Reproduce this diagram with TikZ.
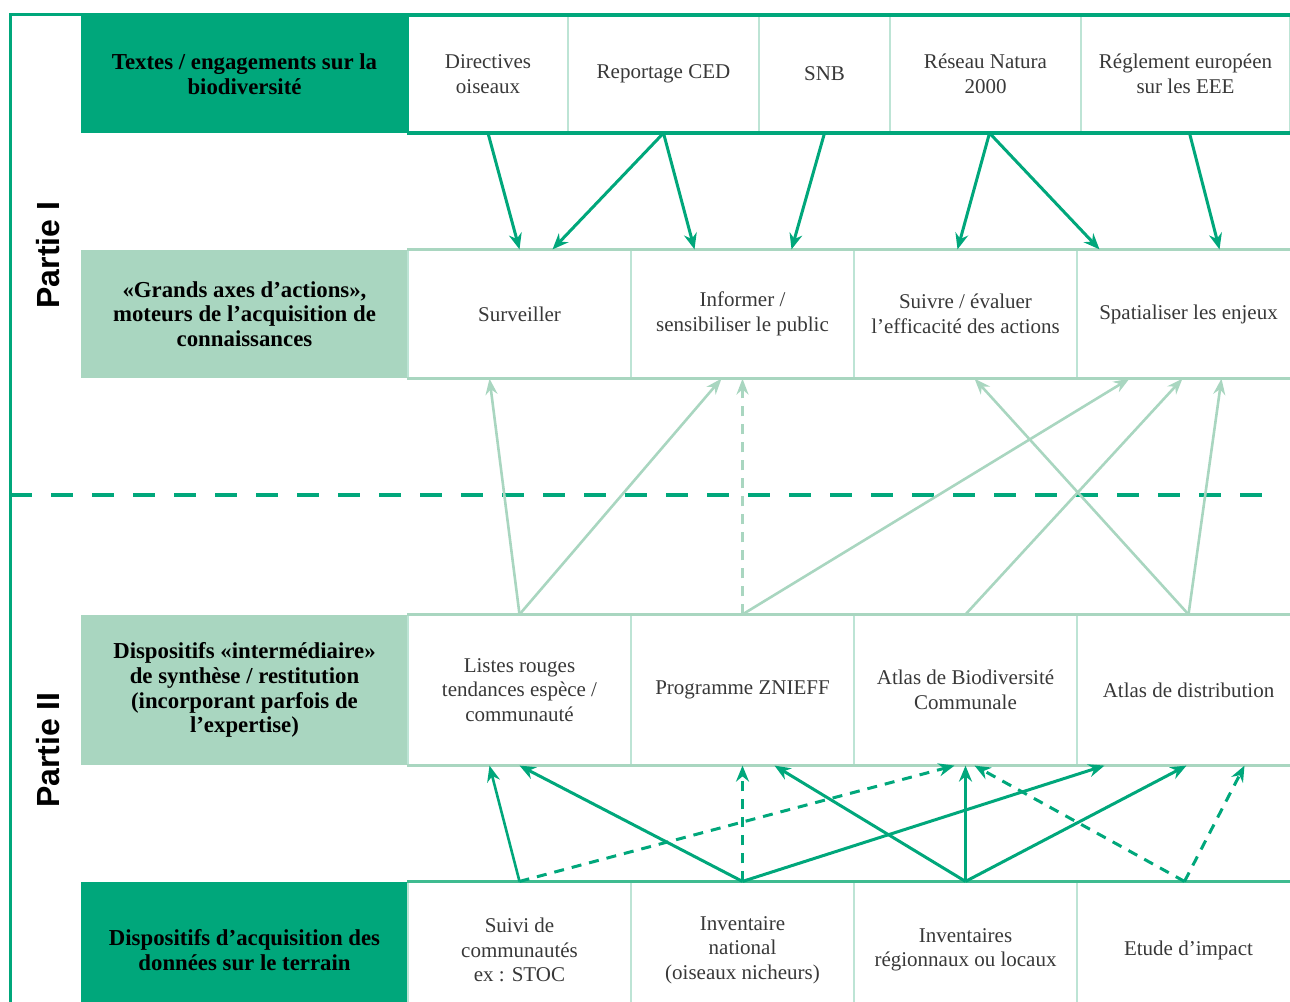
\documentclass[tikz,border=0pt]{standalone}
\usepackage{fontspec}
\setmainfont{Liberation Serif}
\newfontfamily\partfont{Liberation Sans}
\usetikzlibrary{positioning,calc,arrows.meta}

\definecolor{vertfonce}{HTML}{00A77B}
\definecolor{vertclair}{HTML}{A9D6C0}
\definecolor{vertfilet}{HTML}{BDE4D5}
\definecolor{vertmoyen}{HTML}{3FBB90}
\definecolor{gristexte}{HTML}{383838}

\begin{document}
\begin{tikzpicture}[x=0.5pt,y=-0.5pt]
\tikzstyle{every node}+=[inner sep=0pt]
\tikzstyle{tete}=[minimum width=163.5pt, align=center, text=black, font=\bfseries\fontsize{11.4}{12.4}\selectfont]
\tikzstyle{case}=[draw=vertfilet, line width=0.6pt, align=center, text=gristexte, font=\fontsize{10.5}{12.3}\selectfont]
\tikzstyle{fleche}=[vertfonce, line width=1.5pt, -{Stealth[length=8pt,width=6.5pt]}]
\tikzstyle{flecheclaire}=[vertclair, line width=1.3pt, -{Stealth[length=8pt,width=6pt]}]
\tikzstyle{pointille}=[dash pattern=on 5pt off 4pt]
\useasboundingbox (0,0) rectangle (1290,1001);
\clip (0,0) rectangle (1290,1001);
% cadre
\draw [vertfonce, line width=1.5pt] (10,1010) -- (10,14) -- (1300,14);
\draw [vertfonce, line width=2pt, dash pattern=on 11pt off 9.5pt] (10,495) -- (1272,495);
\node [rotate=90, font=\partfont\bfseries\fontsize{16}{16}\selectfont] (partie1) at (48,255) {Partie I};
\node [rotate=90, font=\partfont\bfseries\fontsize{16}{16}\selectfont] (partie2) at (48,750) {Partie II};
% ligne 1 : textes
\node [tete, fill=vertfonce, minimum height=58.5pt] (textes) at (244.5,74) {Textes / engagements sur la\\biodiversité};
\node [case, minimum width=80pt, minimum height=58.5pt] (dir) at (488,74) {Directives\\oiseaux};
\node [case, minimum width=95.5pt, minimum height=58.5pt] (ced) at (663.5,74) {Reportage CED};
\node [case, minimum width=65.5pt, minimum height=58.5pt] (snb) at (824.5,74) {SNB};
\node [case, minimum width=95.5pt, minimum height=58.5pt] (natura) at (985.5,74) {Réseau Natura\\2000};
\node [case, minimum width=104.5pt, minimum height=58.5pt] (eee) at (1185.5,74) {Réglement européen\\sur les EEE};
\draw [vertfonce, line width=2pt] (dir.north west) -- (eee.north east);
\draw [vertfonce, line width=2pt] (dir.south west) -- (eee.south east);
\draw [vertfonce, line width=2pt] (dir.north west) -- (dir.south west);
% ligne 2 : grands axes
\node [tete, fill=vertclair, minimum height=64pt] (axes) at (244.5,314) {«Grands axes d’actions»,\\moteurs de l’acquisition de\\connaissances};
\node [case, minimum width=111.5pt, minimum height=64pt] (surv) at (519.5,314) {Surveiller};
\node [case, minimum width=111.5pt, minimum height=64pt] (info) at (742.5,314) {Informer /\\sensibiliser le public};
\node [case, minimum width=111.5pt, minimum height=64pt] (suivre) at (965.5,314) {Suivre / évaluer\\l’efficacité des actions};
\node [case, minimum width=111.5pt, minimum height=64pt] (spat) at (1188.5,314) {Spatialiser les enjeux};
\draw [vertclair, line width=1.5pt] (surv.north west) -- (spat.north east);
\draw [vertclair, line width=1.5pt] (surv.south west) -- (spat.south east);
% ligne 3 : dispositifs intermediaires
\node [tete, fill=vertclair, minimum height=75pt] (interm) at (244.5,690) {Dispositifs «intermédiaire»\\de synthèse / restitution\\(incorporant parfois de\\l’expertise)};
\node [case, minimum width=111.5pt, minimum height=75pt] (listes) at (519.5,690) {Listes rouges\\tendances espèce /\\communauté};
\node [case, minimum width=111.5pt, minimum height=75pt] (znieff) at (742.5,690) {Programme ZNIEFF};
\node [case, minimum width=111.5pt, minimum height=75pt] (abc) at (965.5,690) {Atlas de Biodiversité\\Communale};
\node [case, minimum width=111.5pt, minimum height=75pt] (atlas) at (1188.5,690) {Atlas de distribution};
\draw [vertclair, line width=1.5pt] (listes.north west) -- (atlas.north east);
\draw [vertclair, line width=1.5pt] (listes.south west) -- (atlas.south east);
% ligne 4 : acquisition
\node [tete, fill=vertfonce, minimum height=68pt] (terrain) at (244.5,950) {Dispositifs d’acquisition des\\données sur le terrain};
\node [case, minimum width=111.5pt, minimum height=68pt] (stoc) at (519.5,950) {Suivi de\\communautés\\ex : STOC};
\node [case, minimum width=111.5pt, minimum height=68pt] (invnat) at (742.5,950) {Inventaire\\national\\(oiseaux nicheurs)};
\node [case, minimum width=111.5pt, minimum height=68pt] (invreg) at (965.5,950) {Inventaires\\régionnaux ou locaux};
\node [case, minimum width=111.5pt, minimum height=68pt] (impact) at (1188.5,950) {Etude d’impact};
\draw [vertmoyen, line width=1.5pt] (stoc.north west) -- (impact.north east);
% textes -> grands axes
\draw [fleche] (dir.south) -- (surv.north);
\draw [fleche] (ced.south) -- ($(surv.north)+(33,0)$);
\draw [fleche] (ced.south) -- ($(info.north)+(-48,0)$);
\draw [fleche] (snb.south) -- ($(info.north)+(49,0)$);
\draw [fleche] ($(natura.south)+(4,0)$) -- ($(suivre.north)+(-8,0)$);
\draw [fleche] ($(natura.south)+(4,0)$) -- ($(spat.north)+(-89,0)$);
\draw [fleche] ($(eee.south)+(4,0)$) -- ($(spat.north)+(31,0)$);
% intermediaires -> grands axes
\draw [flecheclaire] (listes.north) -- ($(surv.south)+(-30,0)$);
\draw [flecheclaire] (listes.north) -- ($(info.south)+(-21,0)$);
\draw [flecheclaire, pointille] (znieff.north) -- (info.south);
\draw [flecheclaire] (znieff.north) -- ($(spat.south)+(-59,0)$);
\draw [flecheclaire] (abc.north) -- ($(spat.south)+(-6,0)$);
\draw [flecheclaire] (atlas.north) -- ($(suivre.south)+(9,0)$);
\draw [flecheclaire] (atlas.north) -- ($(spat.south)+(33,0)$);
% acquisition -> intermediaires
\draw [fleche, line width=1.3pt] (stoc.north) -- ($(listes.south)+(-30,0)$);
\draw [fleche, pointille] (stoc.north) -- ($(abc.south)+(-11,0)$);
\draw [fleche] (invnat.north) -- (listes.south);
\draw [fleche, pointille, line width=1.3pt] (invnat.north) -- (znieff.south);
\draw [fleche] (invnat.north) -- ($(atlas.south)+(-84,0)$);
\draw [fleche] (invreg.north) -- ($(znieff.south)+(32,0)$);
\draw [fleche] (invreg.north) -- (abc.south);
\draw [fleche] (invreg.north) -- ($(atlas.south)+(-2,0)$);
\draw [fleche, pointille] ($(impact.north)+(-4,0)$) -- ($(abc.south)+(9,0)$);
\draw [fleche, pointille] ($(impact.north)+(-4,0)$) -- ($(atlas.south)+(56,0)$);
\end{tikzpicture}
\end{document}
